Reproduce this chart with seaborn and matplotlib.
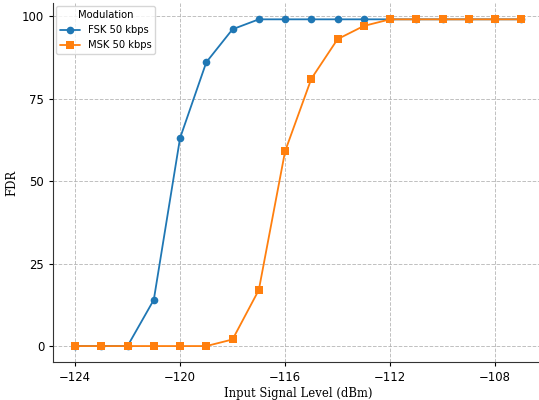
import pandas as pd
import matplotlib
matplotlib.use("Agg")
import matplotlib.pyplot as plt
import seaborn as sns

# Data
signal_level = list(range(-124, -106))
fsk_fdr = [0, 0, 0, 14, 63, 86, 96, 99, 99, 99, 99, 99, 99, 99, 99, 99, 99, 99]
msk_fdr = [0, 0, 0, 0, 0, 0, 2, 17, 59, 81, 93, 97, 99, 99, 99, 99, 99, 99]
series_names = ["FSK 50 kbps", "MSK 50 kbps"]

df = pd.concat([
    pd.DataFrame({"Level": signal_level, "FDR": fsk_fdr, "Modulation": series_names[0]}),
    pd.DataFrame({"Level": signal_level, "FDR": msk_fdr, "Modulation": series_names[1]}),
])

sns.set_style("ticks", {"text.color": "black", "xtick.color": "black",
                        "ytick.color": "black", "axes.labelcolor": "black",
                        "axes.edgecolor": "#333333"})

fig = plt.figure(figsize=(5.39, 4.0), dpi=100)
ax = fig.add_axes([52.7 / 539, 0.094, 491 / 539, 0.8985])

sns.lineplot(data=df, x="Level", y="FDR", hue="Modulation", style="Modulation",
             markers={"FSK 50 kbps": "o", "MSK 50 kbps": "s"}, dashes=False,
             palette=["#1f77b4", "#ff7f0e"], linewidth=1.3, markersize=5.5,
             markeredgewidth=0, ax=ax)

ax.set_xticks([-124, -120, -116, -112, -108])
ax.set_yticks([0, 25, 50, 75, 100])
ax.grid(True, linestyle="--", color="#b0b0b0", linewidth=0.7, alpha=0.8)
ax.set_xlabel("Input Signal Level (dBm)", family="DejaVu Serif", fontsize=8.4, labelpad=2)
ax.set_ylabel("FDR", family="DejaVu Serif", fontsize=8.4, labelpad=3)
ax.tick_params(labelsize=8.4, length=3, pad=3)
sns.despine(ax=ax)

ax.legend(title="Modulation", loc="upper left", fontsize=7.2, title_fontsize=7.2,
          framealpha=0.8, borderaxespad=0.3)

fig.savefig("out.png", dpi=100)
